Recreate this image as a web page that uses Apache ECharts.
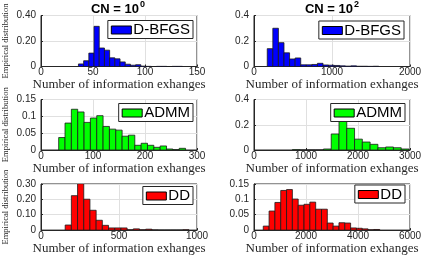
<!DOCTYPE html>
<html>
<head>
<meta charset="utf-8">
<script src="https://cdn.jsdelivr.net/npm/echarts@6/dist/echarts.min.js"></script>
<style>html,body{margin:0;padding:0;background:#fff;}#c{width:425px;height:256px;}</style>
</head>
<body>
<div id="c"></div>
<script>
// ---- Data ----
var titles = ['CN = 10', 'CN = 10'];
var titleExp = ['0', '2'];
var seriesNames = ['D-BFGS', 'D-BFGS', 'ADMM', 'ADMM', 'DD', 'DD'];
var xName = 'Number of information exhanges';
var yName = 'Empirical distribution';

// bin edges (x) for each panel
var edges1 = [36, 41, 46, 51, 56, 61, 66, 71, 76, 81, 86, 91, 96, 101, 106, 111, 116, 121, 126, 131, 136];
var edges2 = [170, 241.5, 313, 384.5, 456, 527.5, 599, 670.5, 742, 813.5, 885, 956.5, 1028, 1099.5, 1171, 1242.5, 1314, 1385.5, 1457, 1528.5, 1600];
var edges3 = [34, 46.2, 58.4, 70.6, 82.8, 95, 107.2, 119.4, 131.6, 143.8, 156, 168.2, 180.4, 192.6, 204.8, 217, 229.2, 241.4, 253.6, 265.8, 278];
var edges4 = [737, 886.6, 1036.2, 1185.8, 1335.4, 1485, 1634.6, 1784.2, 1933.8, 2083.4, 2233, 2382.6, 2532.2, 2681.8, 2831.4, 2981];
var edges5 = [155, 194.7, 234.4, 274.1, 313.8, 353.5, 393.2, 432.9, 472.6, 512.3, 552, 591.7, 631.4, 671.1, 710.8, 750.5, 790.2, 829.9, 869.6, 909.3, 949];
var edges6 = [356, 580, 804, 1028, 1252, 1476, 1700, 1924, 2148, 2372, 2596, 2820, 3044, 3268, 3492, 3716, 3940, 4164, 4388, 4612, 4836];

// bar heights (empirical distribution)
var dbfgs1 = [0.020, 0.045, 0.105, 0.315, 0.145, 0.128, 0.068, 0.060, 0.036, 0.018, 0.010, 0.014, 0.003, 0.001, 0, 0.001, 0.001, 0, 0.001, 0.001];
var dbfgs2 = [0.140, 0.300, 0.187, 0.107, 0.059, 0.067, 0.013, 0.013, 0.016, 0.025, 0.012, 0.010, 0.008, 0.005, 0.003, 0.005, 0.002, 0.002, 0.001, 0.002];
var admm1 = [0.037, 0.080, 0.121, 0.113, 0.082, 0.095, 0.102, 0.070, 0.062, 0.059, 0.041, 0.044, 0.014, 0.020, 0.014, 0.008, 0.012, 0.003, 0.001, 0.005];
var admm2 = [0.002, 0, 0, 0, 0.008, 0.127, 0.310, 0.172, 0.086, 0.063, 0.045, 0.018, 0.024, 0.018, 0.008];
var dd1 = [0.033, 0.224, 0.302, 0.201, 0.129, 0.064, 0.031, 0.014, 0.014, 0.014, 0.002, 0.008, 0.002, 0.006, 0.001, 0, 0, 0, 0, 0.002];
var dd2 = [0.013, 0.062, 0.090, 0.129, 0.132, 0.101, 0.081, 0.084, 0.091, 0.068, 0.068, 0.023, 0.013, 0.024, 0.023, 0.007, 0.006, 0.004, 0.001, 0.002];

// axes: ranges and tick labels
var xMax = [150, 2000, 300, 3000, 1000, 6000];
var xStep = [50, 1000, 100, 1000, 500, 2000];
var xLabels = [
  ['0', '50', '100', '150'],
  ['0', '1000', '2000'],
  ['0', '100', '200', '300'],
  ['0', '1000', '2000', '3000'],
  ['0', '500', '1000'],
  ['0', '2000', '4000', '6000']
];
var yMax = [0.4, 0.4, 0.15, 0.4, 0.3, 0.15];
var yStep = [0.2, 0.2, 0.05, 0.2, 0.1, 0.05];
var yLabels = [
  ['0', '0.20', '0.40'],
  ['0', '0.2', '0.4'],
  ['0', '0.05', '0.1', '0.15'],
  ['0', '0.2', '0.4'],
  ['0', '0.10', '0.20', '0.30'],
  ['0', '0.05', '0.1', '0.15']
];
var colors = ['#0000ff', '#0000ff', '#00ff00', '#00ff00', '#ff0000', '#ff0000'];

var allEdges = [edges1, edges2, edges3, edges4, edges5, edges6];
var allVals = [dbfgs1, dbfgs2, admm1, admm2, dd1, dd2];

// ---- Layout ----
var grids = [
  {left: 39.5, top: 15.5, width: 157.5, height: 51},
  {left: 254, top: 15.5, width: 156, height: 51},
  {left: 39.5, top: 99.5, width: 157.5, height: 50.5},
  {left: 254, top: 99.5, width: 156, height: 50.5},
  {left: 39.5, top: 184, width: 157.5, height: 49},
  {left: 254, top: 184, width: 156, height: 49}
];
var legendPos = [
  {right: 232, top: 20.5},
  {right: 21, top: 21},
  {right: 232, top: 103.5},
  {right: 20, top: 103.5},
  {right: 232, top: 186.5},
  {right: 20, top: 185}
];

var axisColor = '#262626';
var option = {
  backgroundColor: '#fff',
  animation: false,
  title: [0, 1].map(function (i) {
    return {
      text: '{a|' + titles[i] + '}{b|' + titleExp[i] + '}',
      left: i === 0 ? 118 : 332,
      top: 0,
      textAlign: 'center',
      padding: 0,
      textStyle: {
        rich: {
          a: {fontFamily: 'Liberation Sans', fontWeight: 'bold', fontSize: 13, color: '#000', lineHeight: 16, verticalAlign: 'bottom'},
          b: {fontFamily: 'Liberation Sans', fontWeight: 'bold', fontSize: 9, color: '#000', lineHeight: 16, verticalAlign: 'top', padding: [0, 0, 0, 1]}
        }
      }
    };
  }),
  grid: grids.map(function (g) {
    return Object.assign({show: true, borderColor: axisColor, borderWidth: 1, backgroundColor: '#fff'}, g);
  }),
  legend: seriesNames.map(function (n, i) {
    return Object.assign({
      data: [n],
      orient: 'vertical',
      backgroundColor: '#fff',
      borderColor: axisColor,
      borderWidth: 1,
      padding: [2, 3, 1, 3],
      itemWidth: 20,
      itemHeight: 8,
      icon: 'rect',
      selectedMode: false,
      itemStyle: {borderColor: '#000', borderWidth: 1},
      textStyle: {fontFamily: 'Liberation Sans', fontSize: 15, color: '#000', lineHeight: 12, padding: [0, 0, 0, -3]}
    }, legendPos[i]);
  }),
  xAxis: grids.map(function (g, i) {
    return {
      gridIndex: i, type: 'value', min: 0, max: xMax[i], interval: xStep[i],
      name: xName, nameLocation: 'middle', nameGap: 10,
      nameTextStyle: {fontFamily: 'Liberation Serif', fontSize: 13, color: '#262626'},
      axisLine: {show: true, lineStyle: {color: axisColor, width: 1}},
      axisTick: {show: true, inside: true, length: 2, lineStyle: {color: axisColor}},
      axisLabel: {
        fontFamily: 'Liberation Sans', fontSize: 10, color: '#262626', margin: 1,
        formatter: (function (idx) {
          return function (v) { return xLabels[idx][Math.round(v / xStep[idx])]; };
        })(i)
      },
      splitLine: {show: true, lineStyle: {color: '#e0e0e0', width: 1}}
    };
  }),
  yAxis: grids.map(function (g, i) {
    return {
      gridIndex: i, type: 'value', min: 0, max: yMax[i], interval: yStep[i],
      name: (i % 2 === 0) ? yName : '', nameLocation: 'middle', nameGap: 31, nameRotate: 90,
      nameTextStyle: {fontFamily: 'Liberation Serif', fontSize: 8.5, color: '#262626'},
      axisLine: {show: true, lineStyle: {color: axisColor, width: 1}},
      axisTick: {show: true, inside: true, length: 2, lineStyle: {color: axisColor}},
      axisLabel: {
        fontFamily: 'Liberation Sans', fontSize: 10, color: '#262626', margin: 5,
        formatter: (function (idx) {
          return function (v) { return yLabels[idx][Math.round(v / yStep[idx])]; };
        })(i)
      },
      splitLine: {show: true, lineStyle: {color: '#e0e0e0', width: 1}}
    };
  }),
  series: seriesNames.map(function (n, i) {
    var e = allEdges[i], v = allVals[i];
    var data = v.map(function (val, k) { return [e[k], e[k + 1], val]; });
    return {
      type: 'custom', name: n, xAxisIndex: i, yAxisIndex: i,
      itemStyle: {color: colors[i], borderColor: '#000', borderWidth: 1},
      encode: {x: [0, 1], y: 2},
      clip: true,
      data: data,
      renderItem: function (params, api) {
        var p0 = api.coord([api.value(0), api.value(2)]);
        var p1 = api.coord([api.value(1), 0]);
        return {
          type: 'rect',
          shape: {x: p0[0], y: p0[1], width: p1[0] - p0[0], height: p1[1] - p0[1]},
          style: {fill: colors[i], stroke: '#1a1a1a', lineWidth: 0.8}
        };
      }
    };
  })
};

var chart = echarts.init(document.getElementById('c'), null, {renderer: 'canvas'});
chart.setOption(option);
</script>
</body>
</html>
